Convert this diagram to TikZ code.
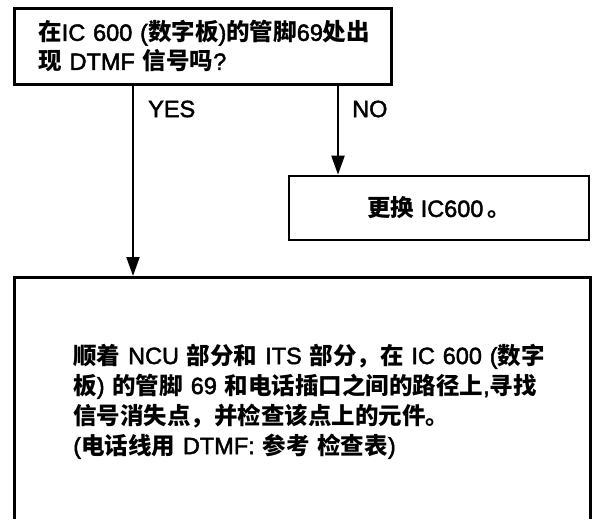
\documentclass[tikz,border=0pt]{standalone}
\usepackage{fontspec}
\setmainfont{Liberation Sans}
\newfontfamily\latinfont{Liberation Sans}[FakeBold=2]
\newfontfamily\cjkfont{Noto Sans CJK SC}
\newcommand\zh[1]{{\cjkfont\bfseries #1}}
\usetikzlibrary{arrows.meta}
\begin{document}
\begin{tikzpicture}[x=1pt,y=-1pt,
  box/.style={draw,line width=2.6pt,rectangle,inner ysep=0pt},
  arr/.style={line width=2pt,-{Triangle[length=19pt,width=13pt]}},
  lbl/.style={anchor=west,inner sep=0pt,font=\latinfont\fontsize{23.5}{28}\selectfont}]
\clip (0,0) rectangle (594,519);
\fill[white] (0,0) rectangle (594,519);
\node[box,anchor=north west,minimum width=377pt,minimum height=76pt,inner xsep=24pt,
  text width=329pt,align=left,font=\latinfont\fontsize{23.5}{29}\selectfont] (q) at (13,7)
  {\mbox{\zh{在}IC 600 (\zh{数字板})\zh{的管脚}69\zh{处出}}\\
   \mbox{\zh{现} DTMF \zh{信号吗}?}};
\node[box,minimum width=300pt,minimum height=64pt,font=\latinfont\fontsize{23.5}{29}\selectfont] (r) at (439,208)
  {\zh{更换} IC600\,\zh{。}};
\node[box,anchor=north west,minimum width=576pt,minimum height=248pt,inner xsep=59pt,
  text width=458pt,align=left,font=\latinfont\fontsize{23.5}{30}\selectfont] (b) at (13,276)
  {\mbox{\zh{顺着} NCU \zh{部分和} ITS \zh{部分，在} IC 600 (\zh{数字}}\\
   \mbox{\zh{板}) \zh{的管脚} 69 \zh{和电话插口之间的路径上},\zh{寻找}}\\
   \mbox{\zh{信号消失点，并检查该点上的元件。}}\\
   \mbox{(\zh{电话线用} DTMF: \zh{参考} \zh{检查表})}};
\coordinate (yx) at (133,0);
\coordinate (nx) at (338,0);
\draw[arr] (q.south -| yx) -- (b.north -| yx);
\draw[arr] (q.south -| nx) -- (r.north -| nx);
\node[lbl] (yes) at (148,109) {YES};
\node[lbl] (no) at (352,109) {NO};
\end{tikzpicture}
\end{document}
